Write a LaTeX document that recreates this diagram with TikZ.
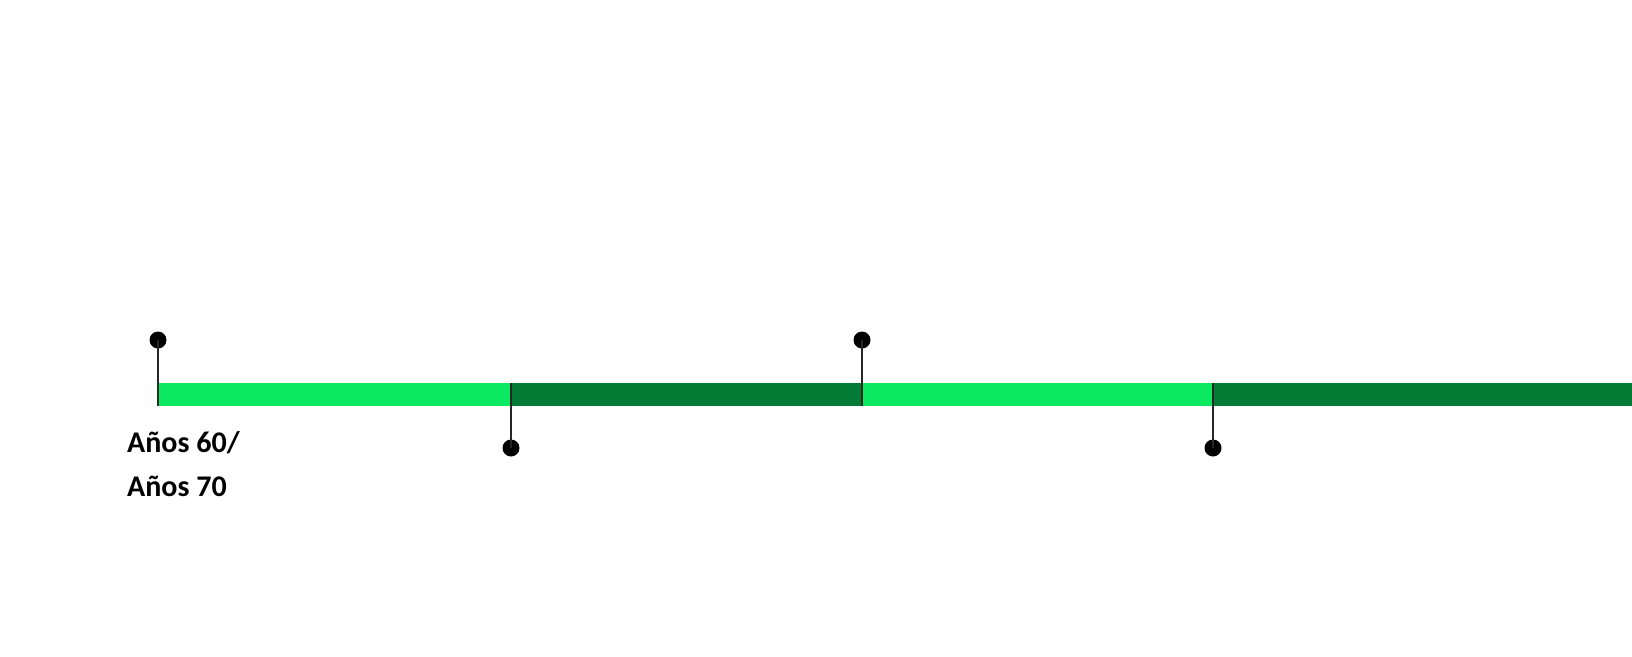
\documentclass[tikz,border=0pt]{standalone}
\usepackage{fontspec}
\setmainfont{Carlito}
\definecolor{lightg}{HTML}{0AE95F}
\definecolor{darkg}{HTML}{047B35}
\begin{document}
\begin{tikzpicture}[x=1pt,y=-1pt,
  dot/.style={circle,fill=black,inner sep=0pt,minimum size=17pt},
  stem/.style={draw=black!85,line width=1.2pt},
  lbl/.style={font=\fontsize{30}{44}\selectfont\bfseries,align=left,anchor=north west,inner sep=0pt}]
\useasboundingbox (0,0) rectangle (1632,656);
\fill[white] (0,0) rectangle (1632,656);
% bar segments
\fill[lightg] (158,383) rectangle (511,406);
\fill[darkg] (511,383) rectangle (862,406);
\fill[lightg] (862,383) rectangle (1213,406);
\fill[darkg] (1213,383) rectangle (1632,406);
% dots
\node[dot] (d1) at (158,340) {};
\node[dot] (d2) at (511,448) {};
\node[dot] (d3) at (862,340) {};
\node[dot] (d4) at (1213,448) {};
\coordinate (b1) at (158,406);
\coordinate (b2) at (511,383);
\coordinate (b3) at (862,406);
\coordinate (b4) at (1213,383);
\draw[stem] (d1.center) -- (b1);
\draw[stem] (b2) -- (d2.center);
\draw[stem] (d3.center) -- (b3);
\draw[stem] (b4) -- (d4.center);
\node[lbl] (t1) at (127,431) {Años 60/\\Años 70};
\end{tikzpicture}
\end{document}
